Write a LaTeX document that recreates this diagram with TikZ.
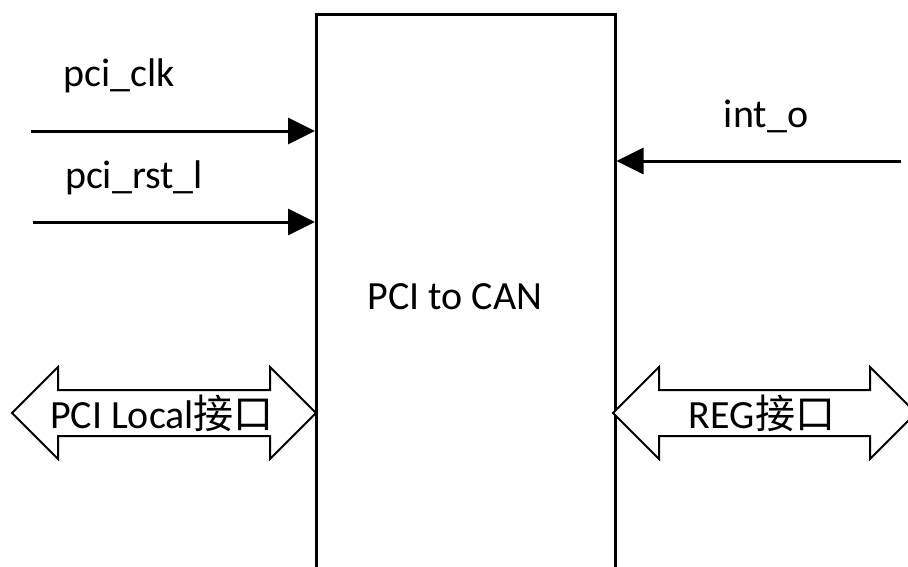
\documentclass[tikz,border=0pt]{standalone}
\usepackage{fontspec}
\setmainfont{Carlito}
\newfontfamily\cjk{Noto Sans CJK SC}
\usetikzlibrary{arrows.meta}

\begin{document}
\begin{tikzpicture}[x=1pt,y=-1pt,
  sig/.style={line width=3pt, -{Triangle[length=27pt,width=26pt]}},
  lbl/.style={font=\fontsize{40}{48}\selectfont, inner sep=0pt},
  bus/.style={draw, line width=2pt, line join=miter, fill=white}]
\useasboundingbox (0,0) rectangle (908,566);
\clip (0,0) rectangle (908,566);

% main block (runs past the lower edge)
\node[draw, line width=2.5pt, minimum width=299pt, minimum height=620pt,
      inner sep=0pt, anchor=north west] (blk) at (315,13) {};
\node[lbl] (title) at (455,297) {PCI to CAN};

% single-bit signals
\coordinate (clkin) at (31,131);
\coordinate (rstin) at (33,222);
\coordinate (intsrc) at (901,161);
\draw[sig] (clkin) -- (clkin -| blk.west);
\draw[sig] (rstin) -- (rstin -| blk.west);
\draw[sig] (intsrc) -- (intsrc -| blk.east);
\node[lbl] (clklbl) at (119,76) {pci\_clk};
\node[lbl] (rstlbl) at (134,178) {pci\_rst\_l};
\node[lbl] (intlbl) at (766,116) {int\_o};

% bus interfaces
\draw[bus] (12,413) -- (58,367) -- (58,390) -- (270,390) -- (270,367) -- (316,413)
  -- (270,459) -- (270,436) -- (58,436) -- (58,459) -- cycle;
\node[lbl] (pcibus) at (162,413) {PCI Local{\cjk 接口}};

\draw[bus] (613,413) -- (659,367) -- (659,390) -- (870,390) -- (870,367) -- (916,413)
  -- (870,459) -- (870,436) -- (659,436) -- (659,459) -- cycle;
\node[lbl] (regbus) at (762,413) {REG{\cjk 接口}};
\end{tikzpicture}
\end{document}
